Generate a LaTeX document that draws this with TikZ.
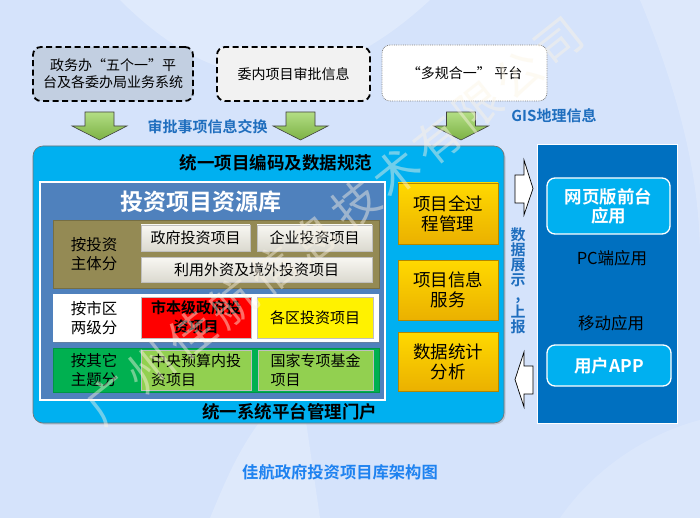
\documentclass[tikz,border=0pt]{standalone}
\usepackage{fontspec}
\setmainfont{Noto Sans CJK SC}[BoldFont={Noto Sans CJK SC Bold}]
\usetikzlibrary{shadows,calc}
\definecolor{bgcol}{RGB}{213,227,251}
\definecolor{mainblue}{RGB}{0,176,240}
\definecolor{steel}{RGB}{79,129,189}
\definecolor{olive}{RGB}{148,138,84}
\definecolor{beige}{RGB}{238,236,225}
\definecolor{gband}{RGB}{0,176,80}
\definecolor{lgreen}{RGB}{146,208,80}
\definecolor{gold}{RGB}{255,192,0}
\definecolor{dblue}{RGB}{0,112,192}
\definecolor{lblue}{RGB}{31,110,190}
\definecolor{capblue}{RGB}{30,130,240}
\definecolor{tbox}{RGB}{194,207,225}
\definecolor{wmcol}{RGB}{252,244,228}
\newcommand{\fs}[2]{\fontsize{#1}{#2}\selectfont}
\begin{document}
\begin{tikzpicture}[x=1pt,y=-1pt,
  topbox/.style={rounded corners=8pt, align=center, inner sep=0pt, font=\fs{14}{17}},
  dashbox/.style={topbox, draw=black, line width=1.8pt, dash pattern=on 6pt off 3.5pt},
  dotbox/.style={topbox, draw=gray, line width=0.8pt, densely dotted, fill=white},
  garrow/.style={draw=black!75, line width=0.6pt, top color=lgreen!70!white, bottom color=lgreen!85!black},
  warrow/.style={draw=black, line width=0.7pt, fill=white},
  lbl/.style={font=\bfseries\fs{15}{17}, text=lblue},
  band/.style={minimum width=326pt, inner sep=0pt, drop shadow={shadow xshift=1.2pt, shadow yshift=-1.2pt, opacity=0.4}},
  bandlbl/.style={align=center, font=\fs{15.5}{19}},
  cell/.style={inner sep=0pt, align=center, font=\fs{15}{19}, draw=black!25, line width=0.4pt,
     drop shadow={shadow xshift=1.2pt, shadow yshift=-1.2pt, opacity=0.45}},
  orange/.style={cell, minimum width=100pt, font=\fs{17.5}{20}, top color=gold!60!yellow, bottom color=gold!92!black, draw=gold!70!black},
  rbox/.style={rounded corners=8pt, fill=mainblue, draw=white, line width=1.3pt, align=center, inner sep=0pt,
     font=\bfseries\fs{17.5}{19}, text=white},
  wm/.style={font=\fs{46}{46}, text=wmcol, text opacity=0.45, rotate=38.5, inner sep=0pt}
]
\useasboundingbox (0,0) rectangle (700,518);
% background
\fill[bgcol] (0,0) rectangle (700,518);
\fill[white, opacity=0.25] (120,0) .. controls (200,80) and (300,120) .. (430,0) -- cycle;
\fill[white, opacity=0.22] (210,518) .. controls (230,470) and (250,420) .. (300,380) -- (320,518) -- cycle;
\fill[white, opacity=0.2] (640,0) .. controls (690,120) and (700,200) .. (700,260) -- (700,0) -- cycle;
\fill[white, opacity=0.15] (560,518) .. controls (600,460) and (660,430) .. (700,420) -- (700,518) -- cycle;

% top source boxes
\node[dashbox, fill=tbox, minimum width=160pt, minimum height=54pt] (t1) at (113,74)
  {政务办“五个一”平\\台及各委办局业务系统};
\node[dashbox, fill=black!5, minimum width=153pt, minimum height=54pt] (t2) at (293.5,74)
  {委内项目审批信息};
\node[dotbox, minimum width=165pt, minimum height=56pt] (t3) at (464.5,73)
  {“多规合一”\hspace{0.25em}平台};

% green arrows
\foreach \cx in {99.5,300.5,461}{
  \path[garrow] (\cx-14.5,112) -- (\cx+14.5,112) -- (\cx+14.5,126) -- (\cx+27.5,126)
     -- (\cx,140) -- (\cx-27.5,126) -- (\cx-14.5,126) -- cycle;
}
\node[lbl] (exch) at (207.5,127) {审批事项信息交换};
\node[lbl] (gis) at (554,116) {GIS地理信息};

% main panel
\node[rounded corners=10pt, fill=mainblue, draw=black!55, line width=0.6pt,
  minimum width=471pt, minimum height=277pt, inner sep=0pt,
  drop shadow={shadow xshift=1.5pt, shadow yshift=-1.5pt, opacity=0.3}] (main) at (268.5,284.5) {};
\node[font=\bfseries\fs{17.5}{19}] (mtitle) at (276,163) {统一项目编码及数据规范};
\node[font=\bfseries\fs{17.5}{19}] (mfoot) at (289.5,412) {统一系统平台管理门户};

% inner library box
\node[fill=steel, draw=white, line width=1.6pt, minimum width=345pt, minimum height=218pt, inner sep=0pt] (lib) at (212.5,291) {};
\node[font=\bfseries\fs{23}{25}, text=white] (libtitle) at (200.5,202) {投资项目资源库};

% bands
\node[band, fill=olive, draw=olive!80!black, minimum height=68pt] (band1) at (216,254) {};
\node[band, fill=white, minimum height=48pt] (band2) at (216,318) {};
\node[band, fill=gband, draw=gband!85!black, minimum height=44pt] (band3) at (216,370) {};
\node[bandlbl] (lab1) at (94,254) {按投资\\主体分};
\node[bandlbl] (lab2) at (94,318) {按市区\\两级分};
\node[bandlbl] (lab3) at (94,370) {按其它\\主题分};

% cells
\node[cell, top color=white!60!beige, bottom color=beige!92!black, minimum width=109pt, minimum height=26pt] (c11) at (195.5,238) {政府投资项目};
\node[cell, top color=white!60!beige, bottom color=beige!92!black, minimum width=115pt, minimum height=26pt] (c12) at (314.5,238) {企业投资项目};
\node[cell, top color=white!60!beige, bottom color=beige!92!black, minimum width=231pt, minimum height=25pt] (c13) at (256.5,269.5) {利用外资及境外投资项目};
\node[cell, fill=red, minimum width=110pt, minimum height=41pt, font=\bfseries\fs{15}{19}] (c21) at (196,317.5) {市本级政府投\\资项目};
\node[cell, fill=yellow, minimum width=116pt, minimum height=41pt] (c22) at (315,317.5) {各区投资项目};
\node[cell, fill=lgreen, minimum width=110pt, minimum height=40pt, align=left] (c31) at (196,370) {中央预算内投\\资项目};
\node[cell, fill=lgreen, minimum width=115pt, minimum height=40pt, align=left] (c32) at (315.5,370) {国家专项基金\\项目};

% orange function boxes
\node[orange, minimum height=61pt] (o1) at (448,213.5) {项目全过\\程管理};
\node[orange, minimum height=60pt] (o2) at (448,290) {项目信息\\服务};
\node[orange, minimum height=59pt] (o3) at (448,361.5) {数据统计\\分析};

% right application panel
\node[fill=dblue, draw=white, line width=1pt, minimum width=140pt, minimum height=278pt, inner sep=0pt] (app) at (607,284) {};
\node[rbox, minimum width=123pt, minimum height=56pt] (web) at (608.5,206) {网页版前台\\应用};
\node[font=\fs{16.5}{18}] (pc) at (612,258) {PC端应用};
\node[font=\fs{16.5}{18}] (mob) at (611,323) {移动应用};
\node[rbox, minimum width=124pt, minimum height=41pt] (user) at (609,365.5) {用户APP};

% exchange arrows between panels
\coordinate (ra) at (515,188.5);
\coordinate (la) at (533,379.5);
\path[warrow] ($(ra)+(0,-13.5)$) -- ($(ra)+(9,-13.5)$) -- ($(ra)+(9,-28.5)$) -- ($(ra)+(18,0)$)
   -- ($(ra)+(9,26.5)$) -- ($(ra)+(9,14.5)$) -- ($(ra)+(0,14.5)$) -- cycle;
\path[warrow] ($(la)+(0,-13.5)$) -- ($(la)+(-9,-13.5)$) -- ($(la)+(-9,-27.5)$) -- ($(la)+(-18,0)$)
   -- ($(la)+(-9,27.5)$) -- ($(la)+(-9,14.5)$) -- ($(la)+(0,14.5)$) -- cycle;
\node[font=\bfseries\fs{15}{15}, text=lblue, align=center, inner sep=0pt] (vert) at (518,281)
  {数\\据\\展\\示\\,\\上\\报};

% caption
\node[font=\bfseries\fs{16.3}{18}, text=capblue] (cap) at (340,472) {佳航政府投资项目库架构图};

% watermark
\foreach \c [count=\i from 0] in {广,州,佳,航,信,息,技,术,有,限,公,司}{
  \node[wm] at ($(110,400)+\i*(40.9,-32.5)$) {\c};
}
\end{tikzpicture}
\end{document}
